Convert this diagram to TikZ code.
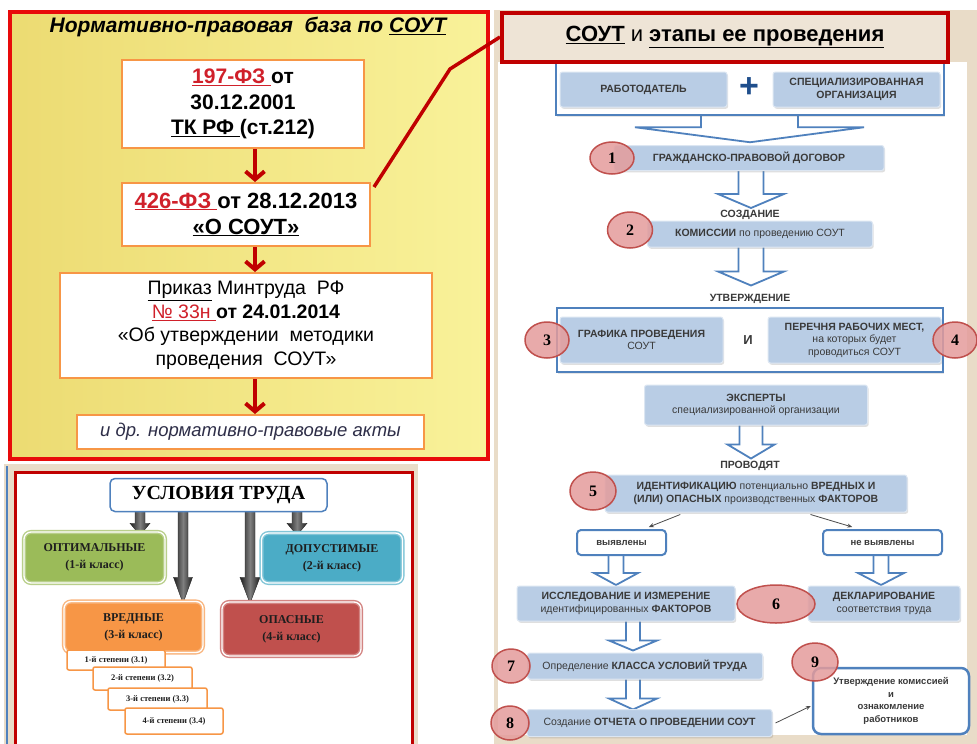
\documentclass[tikz,border=0pt]{standalone}
\usepackage{fontspec}
\setmainfont{Liberation Sans}
\newfontfamily\condserif{Liberation Serif}
\usetikzlibrary{shapes.geometric,shadows,calc,arrows.meta}
\pgfdeclarelayer{back}
\pgfdeclarelayer{mid}
\pgfsetlayers{back,mid,main}

\definecolor{panelred}{HTML}{E80A0A}
\definecolor{darkred}{HTML}{C00000}
\definecolor{lawred}{HTML}{D0202A}
\definecolor{boxorange}{HTML}{F79646}
\definecolor{stageblue}{HTML}{B9CDE5}
\definecolor{stageedge}{HTML}{DCE6F2}
\definecolor{stagetext}{HTML}{3A3A3A}
\definecolor{frameblue}{HTML}{4F81BD}
\definecolor{plusblue}{HTML}{1F4E8C}
\definecolor{parchment}{HTML}{E9DCC8}
\definecolor{titlefill}{HTML}{EEE4D6}
\definecolor{circfill}{HTML}{E49C9C}
\definecolor{circedge}{HTML}{C0504D}
\definecolor{optgreen}{HTML}{9BBB59}
\definecolor{dopteal}{HTML}{4BACC6}
\definecolor{vredorange}{HTML}{F79646}
\definecolor{opasred}{HTML}{C0504D}
\definecolor{condtext}{HTML}{1E1E1E}
\definecolor{actsgray}{HTML}{2E2E48}
\definecolor{yellowA}{HTML}{ECDB72}
\definecolor{yellowB}{HTML}{F9F29A}

\newcommand\stagefont{\fontsize{10.5}{12.5}\selectfont\bfseries}
\newcommand\stagelight{\mdseries}

\tikzset{
  lawbox/.style={draw=boxorange, fill=white, line width=2pt, align=center, inner sep=0pt},
  lawarrow/.style={darkred, line width=4pt, -{Straight Barb[length=8pt,width=19pt]}},
  stage/.style={fill=stageblue, draw=stageedge, line width=1pt, rounded corners=2.5pt,
    align=center, inner sep=1pt, text=stagetext, font=\stagefont,
    drop shadow={shadow xshift=1.2pt, shadow yshift=-1.8pt, opacity=0.25}},
  stageframe/.style={draw=frameblue, line width=2.5pt, fill=white,
    drop shadow={shadow xshift=1.2pt, shadow yshift=-1.8pt, opacity=0.2}},
  steplabel/.style={font=\stagefont, text=stagetext},
  stepnum/.style={ellipse, fill=circfill, fill opacity=0.85, text opacity=1, draw=circedge,
    line width=1.5pt, inner sep=0pt, font=\condserif\bfseries\fontsize{16}{16}\selectfont},
  outcome/.style={fill=white, draw=frameblue, line width=2pt, rounded corners=4pt,
    inner sep=0pt, text=stagetext, font=\fontsize{9.5}{11}\selectfont\bfseries},
  thinarrow/.style={line width=0.8pt, draw=black!70, -{Stealth[length=5pt,width=4pt]}},
  cond/.style={rounded corners=7pt, line width=1.4pt, double=white, double distance=1.3pt,
    align=center, inner sep=0pt, text=condtext,
    font=\condserif\bfseries\fontsize{12}{17}\selectfont},
  degree/.style={fill=white, draw=boxorange, line width=1.5pt, rounded corners=2pt,
    inner sep=0pt, text=condtext, font=\condserif\bfseries\fontsize{8.5}{10}\selectfont},
  pics/hollowdown/.style args={#1/#2/#3/#4}{code={
    \filldraw[draw=frameblue, fill=white, line width=1.8pt, line join=miter]
      (-#2,0) -- (-#2,#1-#4) -- (-#3,#1-#4) -- (0,#1) -- (#3,#1-#4) -- (#2,#1-#4) -- (#2,0);
  }},
  pics/darkdown/.style args={#1/#2/#3/#4}{code={
    \shadedraw[left color=black!88, right color=black!88, middle color=black!50,
      draw=black!85, line width=0.4pt]
      (-#2,0) -- (#2,0) -- (#2,#1-#4) -- (#3,#1-#4) -- (0,#1) -- (-#3,#1-#4) -- (-#2,#1-#4) -- cycle;
  }},
}

\begin{document}
\begin{tikzpicture}[x=1pt,y=-1pt]
\useasboundingbox (0,0) rectangle (977,744);

% ---------- panels ----------
\begin{pgfonlayer}{back}
  \fill[white] (0,0) rectangle (977,744);
  % legal basis panel
  \shade[left color=yellowA, right color=yellowB] (9,11) rectangle (489,460);
  \draw[panelred, line width=4pt] (10,12) rectangle (488,459);
  % stages panel
  \fill[parchment] (494,10) rectangle (977,744);
  \fill[white] (498,62) rectangle (967,735);
  % working conditions panel
  \fill[parchment] (4,464) rectangle (418,744);
  \draw[frameblue, line width=2pt] (7,466) -- (7,744);
  \fill[white] (15,472) rectangle (412,746);
  \draw[darkred, line width=3pt] (15,472) rectangle (412,748);
\end{pgfonlayer}

% ---------- legal basis ----------
\node[font=\fontsize{21}{24}\selectfont\bfseries\itshape] (lawtitle) at (248,27)
  {Нормативно-правовая\ \ база по \underline{СОУТ}};

\node[lawbox, minimum width=242pt, minimum height=88pt,
      font=\fontsize{21}{25.5}\selectfont\bfseries] (law1) at (243,104)
  {\textcolor{lawred}{\underline{197-ФЗ\ }}от\\30.12.2001\\\underline{ТК РФ\ }(ст.212)};

\node[lawbox, minimum width=248pt, minimum height=63pt,
      font=\fontsize{22}{26}\selectfont\bfseries] (law2) at (246,214.5)
  {\textcolor{lawred}{\underline{426-ФЗ\ }}от 28.12.2013\\\underline{«О СОУТ»}};

\node[lawbox, minimum width=372pt, minimum height=105pt,
      font=\fontsize{19.5}{23.5}\selectfont] (law3) at (246,325.5)
  {\underline{Приказ} Минтруда\ \ РФ\\\textcolor{lawred}{\underline{№ 33н\ }}\textbf{от 24.01.2014}\\«Об утверждении\ \ методики\\проведения\ \ СОУТ»};

\node[lawbox, minimum width=347pt, minimum height=34pt, text=actsgray,
      font=\fontsize{18.5}{20}\selectfont\itshape] (law4) at (250.5,432)
  {и др. нормативно-правовые акты};

\coordinate (lawaxis) at (255,0);
\draw[lawarrow] (lawaxis |- law1.south) -- (lawaxis |- law2.north);
\draw[lawarrow] (lawaxis |- law2.south) -- (lawaxis |- law3.north);
\draw[lawarrow] (lawaxis |- law3.south) -- (lawaxis |- law4.north);

% ---------- stages ----------
\node[stageframe, minimum width=388pt, minimum height=54pt] (partiesframe) at (750,88) {};
\node[stage, minimum width=167pt, minimum height=35pt] (employer) at (643.5,89.5) {РАБОТОДАТЕЛЬ};
\node[stage, minimum width=167pt, minimum height=35pt] (specorg) at (856.5,89.5)
  {СПЕЦИАЛИЗИРОВАННАЯ\\ОРГАНИЗАЦИЯ};
\node[text=plusblue, font=\fontsize{34}{34}\selectfont\bfseries] (plus) at (749,88) {+};

\node[draw=darkred, line width=4pt, fill=titlefill, minimum width=446pt, minimum height=49pt,
      font=\fontsize{22}{26}\selectfont\bfseries] (stagetitle) at (725,37)
  {\underline{СОУТ} {\mdseries и} \underline{этапы ее проведения}};

\node[stage, minimum width=270pt, minimum height=25pt] (contract) at (749,158)
  {ГРАЖДАНСКО-ПРАВОВОЙ ДОГОВОР};

\node[steplabel] (lblcreate) at (750,215) {СОЗДАНИЕ};
\node[stage, minimum width=225pt, minimum height=26pt] (commission) at (760,234)
  {КОМИССИИ {\stagelight по проведению СОУТ}};

\node[steplabel] (lblapprove) at (750,299) {УТВЕРЖДЕНИЕ};
\node[stageframe, minimum width=386pt, minimum height=64pt] (planframe) at (750,340) {};
\node[stage, minimum width=163pt, minimum height=46pt] (schedule) at (641.5,340)
  {ГРАФИКА ПРОВЕДЕНИЯ\\{\stagelight СОУТ}};
\node[text=stagetext, font=\fontsize{13}{13}\selectfont\bfseries] (andword) at (748,340) {И};
\node[stage, minimum width=173pt, minimum height=46pt] (worklist) at (854.5,340)
  {ПЕРЕЧНЯ РАБОЧИХ МЕСТ,\\{\stagelight на которых будет}\\{\stagelight проводиться СОУТ}};

\node[stage, minimum width=223pt, minimum height=40pt] (experts) at (756,405)
  {ЭКСПЕРТЫ\\{\stagelight специализированной организации}};

\node[steplabel] (lblconduct) at (750,466) {ПРОВОДЯТ};
\node[stage, minimum width=302pt, minimum height=37pt] (identify) at (756,493.5)
  {ИДЕНТИФИКАЦИЮ {\stagelight потенциально} ВРЕДНЫХ И\\(ИЛИ) ОПАСНЫХ {\stagelight производственных} ФАКТОРОВ};

\node[outcome, minimum width=89pt, minimum height=25pt] (found) at (621.5,542.5) {выявлены};
\node[outcome, minimum width=119pt, minimum height=25pt] (notfound) at (882.5,542.5) {не выявлены};

\node[stage, minimum width=218pt, minimum height=35pt] (measure) at (626,603.5)
  {ИССЛЕДОВАНИЕ И ИЗМЕРЕНИЕ\\{\stagelight идентифицированных} ФАКТОРОВ};
\node[stage, minimum width=152pt, minimum height=35pt] (declare) at (884,603.5)
  {ДЕКЛАРИРОВАНИЕ\\{\stagelight соответствия труда}};

\node[stage, minimum width=235pt, minimum height=26pt] (classify) at (645,666)
  {{\stagelight Определение} КЛАССА УСЛОВИЙ ТРУДА};
\node[stage, minimum width=245pt, minimum height=27pt] (report) at (649.5,723)
  {{\stagelight Создание} ОТЧЕТА О ПРОВЕДЕНИИ СОУТ};

\node[outcome, rounded corners=8pt, line width=2.5pt, align=center,
      minimum width=156pt, minimum height=66pt, font=\fontsize{9.5}{12.5}\selectfont\bfseries]
  (acquaint) at (891,701) {Утверждение комиссией\\и\\ознакомление\\работников};

% step numbers
\node[stepnum, minimum width=44pt, minimum height=32pt] (n1) at (612,158) {1};
\node[stepnum, minimum width=45pt, minimum height=36pt] (n2) at (630,230) {2};
\node[stepnum, minimum width=44pt, minimum height=36pt] (n3) at (547,340) {3};
\node[stepnum, minimum width=44pt, minimum height=36pt] (n4) at (955,340) {4};
\node[stepnum, minimum width=46pt, minimum height=38pt] (n5) at (593,491) {5};
\node[stepnum, minimum width=78pt, minimum height=38pt] (n6) at (776,604) {6};
\node[stepnum, minimum width=38pt, minimum height=34pt] (n7) at (511,666) {7};
\node[stepnum, minimum width=38pt, minimum height=34pt] (n8) at (510,723) {8};
\node[stepnum, minimum width=46pt, minimum height=38pt] (n9) at (815,662) {9};

% stage connectors
\begin{pgfonlayer}{mid}
  \draw[darkred, line width=3.5pt, line join=round]
    ($(law2.north east)+(3,5)$) -- (450,69) -- (stagetitle.west);
  \filldraw[draw=frameblue, fill=white, line width=1.8pt, line join=miter]
    ($(partiesframe.south)+(-49,-3)$) -- ++(0,14) -- ++(-66,0) -- ($(partiesframe.south)+(0,26)$)
    -- ($(partiesframe.south)+(114,11)$) -- ++(-66,0) -- ++(0,-14);
  \coordinate (midaxis) at (751,0);
  \pic at ($(midaxis |- contract.south)+(0,-2)$) {hollowdown=39/12.5/33/14};
  \pic at ($(midaxis |- commission.south)+(0,-2)$) {hollowdown=40/12.5/33/14};
  \pic at ($(midaxis |- experts.south)+(0,-2)$) {hollowdown=35/11.5/23.5/14};
  \coordinate (leftaxis) at (616,0);
  \coordinate (rightaxis) at (881,0);
  \coordinate (lowaxis) at (633,0);
  \pic at ($(leftaxis |- found.south)+(0,-1)$) {hollowdown=30/7.5/22/12};
  \pic at ($(rightaxis |- notfound.south)+(0,-1)$) {hollowdown=30/7.5/23/12};
  \pic at ($(lowaxis |- measure.south)+(0,-2)$) {hollowdown=31/7/24/10};
  \pic at ($(lowaxis |- classify.south)+(0,-2)$) {hollowdown=32/7/24/11};
\end{pgfonlayer}

\draw[thinarrow] ($(identify.south west)!0.25!(identify.south east)+(0,2)$)
  -- ($(found.north west)!0.8!(found.north east)+(0,-2)$);
\draw[thinarrow] ($(identify.south west)!0.68!(identify.south east)+(0,2)$)
  -- ($(notfound.north west)!0.25!(notfound.north east)+(0,-2)$);
\draw[thinarrow] ($(report.east)+(3,0)$) -- ($(acquaint.west)+(-1,5)$);

% ---------- working conditions ----------
\node[draw=frameblue, line width=1.5pt, fill=white, rounded corners=5pt,
      minimum width=217pt, minimum height=33pt,
      font=\condserif\bfseries\fontsize{20}{20}\selectfont] (labour) at (218.5,495) {УСЛОВИЯ ТРУДА};

\node[cond, fill=optgreen, draw=optgreen!70!white, minimum width=141pt, minimum height=51pt]
  (optimal) at (94.5,557.5) {ОПТИМАЛЬНЫЕ\\(1-й класс)};
\node[cond, fill=dopteal, draw=dopteal!70!white, minimum width=141pt, minimum height=50pt]
  (admissible) at (332,558) {ДОПУСТИМЫЕ\\(2-й класс)};
\node[cond, fill=vredorange, draw=vredorange!70!white, minimum width=139pt, minimum height=51pt]
  (harmful) at (133.5,627) {ВРЕДНЫЕ\\(3-й класс)};
\node[cond, fill=opasred, draw=opasred!70!white, minimum width=139pt, minimum height=54pt]
  (dangerous) at (291.5,629) {ОПАСНЫЕ\\(4-й класс)};

\node[degree, minimum width=98pt, minimum height=20pt] (deg1) at (116,660) {1-й степени (3.1)};
\node[degree, minimum width=99pt, minimum height=23pt] (deg2) at (142.5,678.5) {2-й степени (3.2)};
\node[degree, minimum width=99pt, minimum height=22pt] (deg3) at (157.5,699) {3-й степени (3.3)};
\node[degree, minimum width=98pt, minimum height=26pt] (deg4) at (174,721) {4-й степени (3.4)};

\begin{pgfonlayer}{mid}
  \coordinate (ca) at (140,0);
  \coordinate (cb) at (183,0);
  \coordinate (cc) at (250,0);
  \coordinate (cd) at (297,0);
  \pic at ($(ca |- labour.south)+(0,-1)$) {darkdown=24/5/10/12};
  \pic at ($(cb |- labour.south)+(0,-1)$) {darkdown=92/5/9.5/26};
  \pic at ($(cc |- labour.south)+(0,-1)$) {darkdown=92/5/10/26};
  \pic at ($(cd |- labour.south)+(0,-1)$) {darkdown=24/5/10/12};
\end{pgfonlayer}

\end{tikzpicture}
\end{document}
